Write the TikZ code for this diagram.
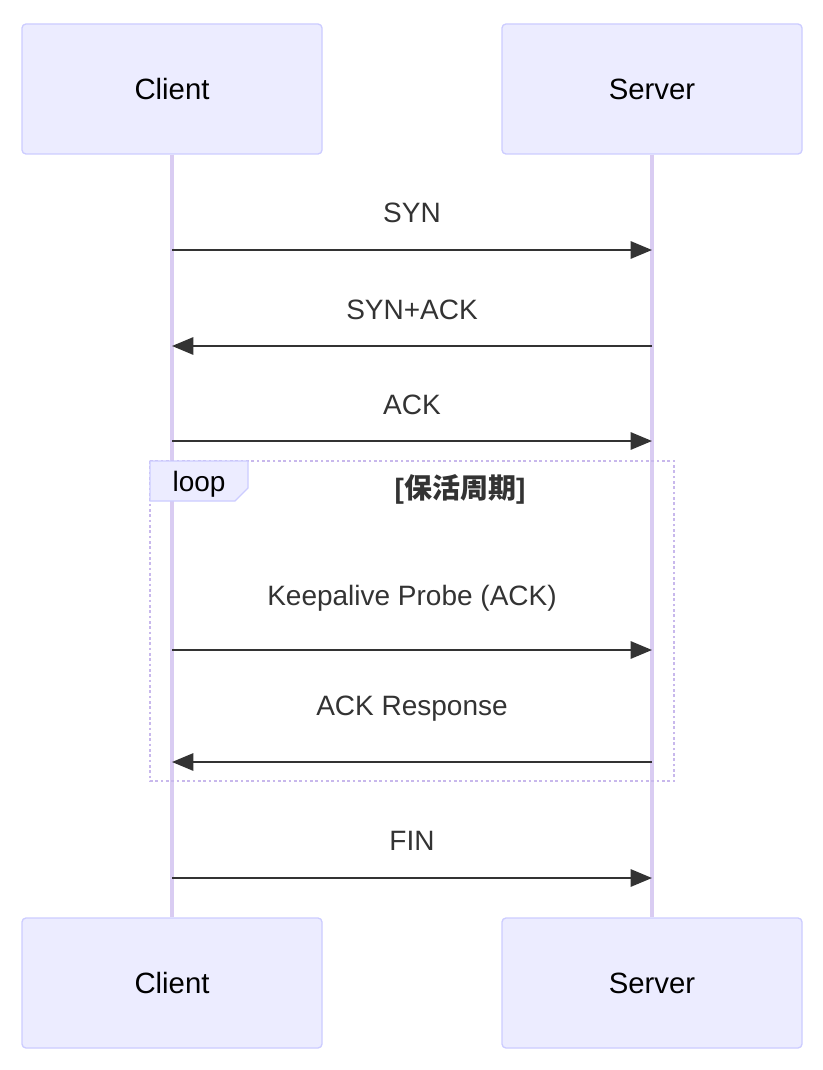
\documentclass[tikz,border=0pt]{standalone}
\usepackage{fontspec}
\setmainfont{Liberation Sans}
\newfontfamily\cjk{Noto Sans CJK SC}
\usetikzlibrary{arrows.meta}
\definecolor{actorfill}{HTML}{ECECFF}
\definecolor{actorline}{HTML}{CCCCFF}
\definecolor{lifeline}{HTML}{D9CCF2}
\definecolor{loopline}{HTML}{C8B8EC}
\definecolor{msgline}{HTML}{333333}
\begin{document}
\begin{tikzpicture}[x=0.75pt,y=-0.75pt,
  actor/.style={draw=actorline,fill=actorfill,rounded corners=3pt,line width=1pt,
    minimum width=225pt,minimum height=97.5pt,font=\fontsize{22}{26}\selectfont},
  msg/.style={draw=msgline,line width=1.4pt,-{Triangle[length=16pt,width=13pt]}},
  lbl/.style={font=\fontsize{21}{25}\selectfont,text=msgline}]
  \useasboundingbox (0,0) rectangle (822,1070);
  % actors
  \node[actor] (ctop) at (172,89) {Client};
  \node[actor] (stop) at (652,89) {Server};
  \node[actor] (cbot) at (172,983) {Client};
  \node[actor] (sbot) at (652,983) {Server};
  \draw[lifeline,line width=2.4pt] (ctop.south) -- (cbot.north);
  \draw[lifeline,line width=2.4pt] (stop.south) -- (sbot.north);
  % loop
  \draw[loopline,line width=2pt,dash pattern=on 2pt off 2pt] (150,461) rectangle (674,781);
  \draw[actorline,fill=actorfill,line width=1pt] (150,461) -- (248,461) -- (248,488) -- (235,501) -- (150,501) -- cycle;
  \node[lbl,text=black] (looptag) at (199,484) {loop};
  \node[lbl,font=\fontsize{21}{25}\selectfont\bfseries] (looptitle) at (460,489) {[{\cjk 保活周期}]};
  % messages
  \foreach \y/\ly/\dir/\txt in {250/213/r/SYN,346/310/l/SYN+ACK,441/405/r/ACK,
      650/598/r/Keepalive Probe (ACK),762/709/l/ACK Response,878/841/r/FIN} {
    \coordinate (c\y) at (172,\y);
    \coordinate (s\y) at (652,\y);
    \node[lbl] (m\y) at (412,\ly) {\txt};
    \if r\dir
      \draw[msg] (c\y) -- (s\y);
    \else
      \draw[msg] (s\y) -- (c\y);
    \fi
  }
\end{tikzpicture}
\end{document}
